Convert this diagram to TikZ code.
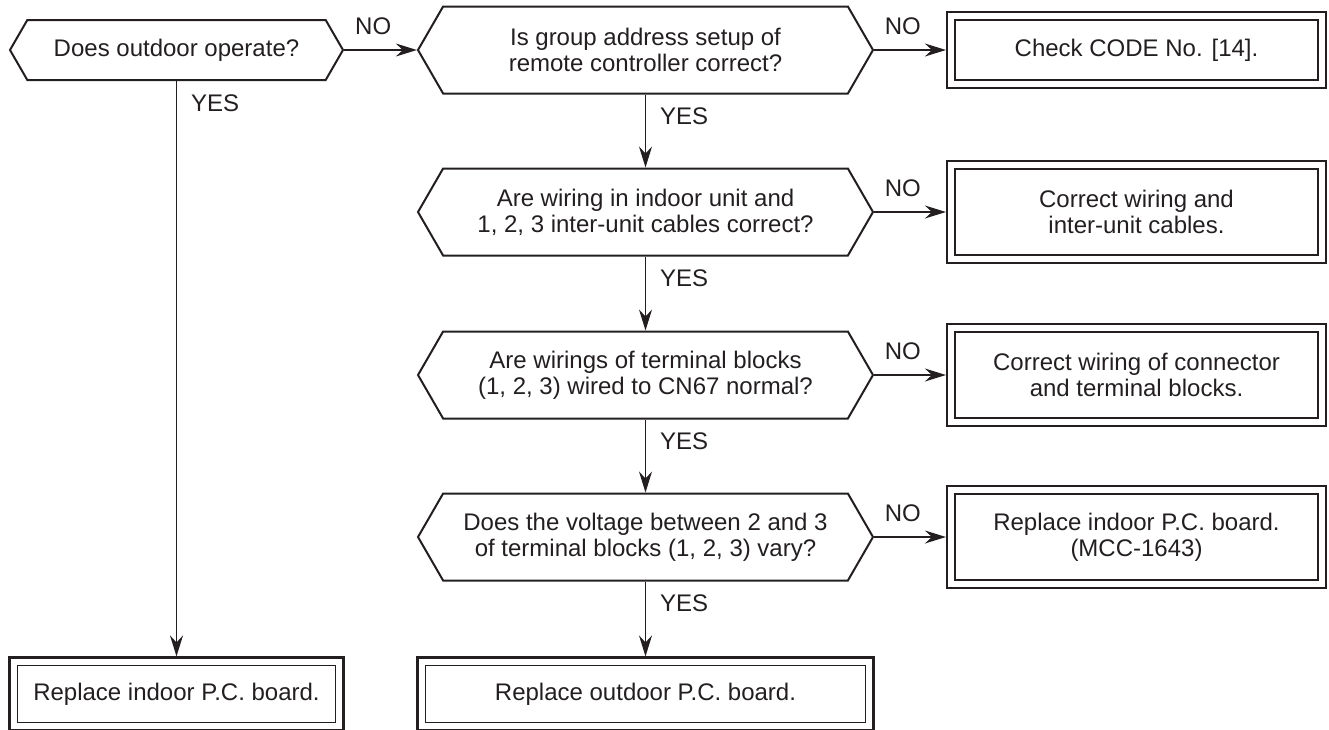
\documentclass[tikz,border=0pt]{standalone}
\usepackage{fontspec}
\setmainfont{Liberation Sans}
\usetikzlibrary{positioning,arrows.meta,calc,shapes.symbols}
\definecolor{ink}{HTML}{231F20}

\begin{document}
\begin{tikzpicture}[x=1pt,y=-1pt,>={Stealth[length=21pt,width=13pt,inset=7pt]},
  every node/.style={font=\fontsize{24}{26}\selectfont,text=ink,align=center},
  hexa/.style={signal,signal to=west and east,signal pointer angle=120,draw=ink,
    line width=2pt,inner sep=0pt,minimum height=#1},
  endbox/.style={draw=ink,line width=2.2pt,inner sep=0pt,minimum height=#1,
    path picture={\draw[ink,line width=1.1pt]
      ([shift={(8pt,-8pt)}]path picture bounding box.north west) rectangle
      ([shift={(-8pt,8pt)}]path picture bounding box.south east);}},
  flow/.style={draw=ink,line width=1.3pt,->},
  no/.style={pos=0.4,anchor=south,yshift=15pt,inner sep=0pt},
  yes/.style={pos=0,anchor=north west,xshift=14pt,yshift=-13pt,inner sep=0pt}]
  \useasboundingbox (0,0) rectangle (1329,729);
  \def\cx{645.5}   % 中央列
  \def\rx{1136.5}  % 右列
  % 判断
  \node[hexa=60,minimum width=333] (d1) at (176.5,50) {Does outdoor operate?};
  \node[hexa=87,minimum width=455] (d2) at (\cx,50) {Is group address setup of\\remote controller correct?};
  \node[hexa=87,minimum width=455] (d3) at (\cx,212) {Are wiring in indoor unit and\\1, 2, 3 inter-unit cables correct?};
  \node[hexa=87,minimum width=455] (d4) at (\cx,375) {Are wirings of terminal blocks\\(1, 2, 3) wired to CN67 normal?};
  \node[hexa=87,minimum width=455] (d5) at (\cx,537) {Does the voltage between 2 and 3\\of terminal blocks (1, 2, 3) vary?};
  % 処置
  \node[endbox=76,minimum width=379] (b1) at (\rx,50) {Check CODE No. [14].};
  \node[endbox=102,minimum width=379] (b2) at (\rx,212) {Correct wiring and\\inter-unit cables.};
  \node[endbox=102,minimum width=379] (b3) at (\rx,375) {Correct wiring of connector\\and terminal blocks.};
  \node[endbox=102,minimum width=379] (b4) at (\rx,537) {Replace indoor P.C. board.\\(MCC-1643)};
  \node[endbox=73,minimum width=334] (b5) at (176.5,694) {Replace indoor P.C. board.};
  \node[endbox=73,minimum width=456] (b6) at (\cx,694) {Replace outdoor P.C. board.};
  % 矢印
  \draw[flow] (d1.east) -- (d2.west) node[no]{NO};
  \draw[flow] (d1.south) -- (b5.north) node[yes]{YES};
  \draw[flow] (d2.east) -- (b1.west) node[no]{NO};
  \draw[flow] (d2.south) -- (d3.north) node[yes]{YES};
  \draw[flow] (d3.east) -- (b2.west) node[no]{NO};
  \draw[flow] (d3.south) -- (d4.north) node[yes]{YES};
  \draw[flow] (d4.east) -- (b3.west) node[no]{NO};
  \draw[flow] (d4.south) -- (d5.north) node[yes]{YES};
  \draw[flow] (d5.east) -- (b4.west) node[no]{NO};
  \draw[flow] (d5.south) -- (b6.north) node[yes]{YES};
\end{tikzpicture}
\end{document}
